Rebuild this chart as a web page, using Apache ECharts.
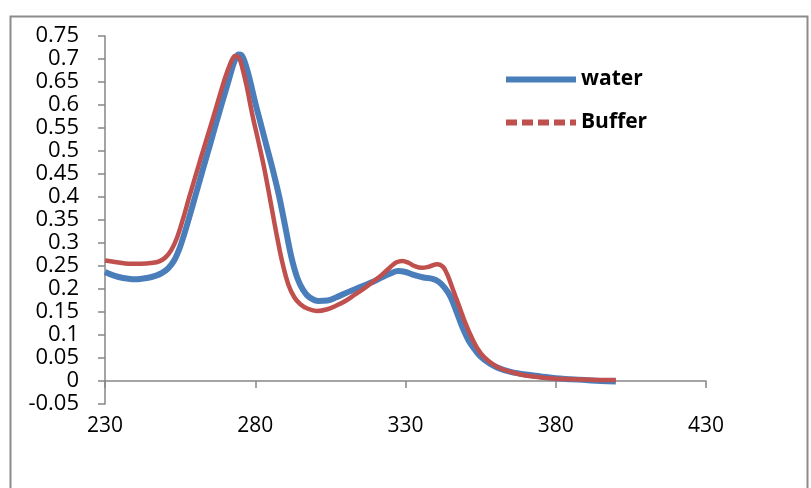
<!DOCTYPE html>
<html>
<head>
<meta charset="utf-8">
<script src="https://cdn.jsdelivr.net/npm/echarts@6/dist/echarts.min.js"></script>
<style>
  html, body { margin: 0; padding: 0; background: #ffffff; }
  #chart { width: 811px; height: 488px; }
</style>
</head>
<body>
<div id="chart"></div>
<script>
// Absorbance spectra (wavelength in nm)
const waterWl = [230, 233, 236, 240, 244, 247, 249, 251, 253, 255, 257, 259, 261, 263, 265, 267, 269, 271, 272.5, 273.5, 274.4, 275.3, 276.3, 278, 280, 282, 284, 286, 288, 290, 292, 294, 296, 298, 301, 304, 307, 310, 313, 316, 319, 322, 325, 327.5, 330, 333, 336, 339, 341, 343, 345, 347, 349, 351, 353, 355, 358, 361, 365, 370, 375, 380, 385, 390, 395, 400];
const waterAbs = [0.237, 0.229, 0.224, 0.221, 0.224, 0.229, 0.235, 0.245, 0.262, 0.292, 0.333, 0.378, 0.424, 0.47, 0.515, 0.561, 0.606, 0.65, 0.684, 0.701, 0.71, 0.709, 0.697, 0.66, 0.605, 0.555, 0.505, 0.455, 0.4, 0.335, 0.27, 0.224, 0.197, 0.182, 0.174, 0.175, 0.182, 0.191, 0.199, 0.207, 0.215, 0.225, 0.234, 0.239, 0.237, 0.23, 0.225, 0.222, 0.216, 0.203, 0.183, 0.15, 0.116, 0.088, 0.069, 0.053, 0.038, 0.028, 0.02, 0.014, 0.01, 0.006, 0.004, 0.002, 0.0, -0.001];

const bufferWl = [230, 234, 238, 242, 246, 248, 250, 252, 254, 256, 258, 260, 262, 264, 266, 268, 270, 271.7, 272.5, 273.3, 274.2, 275, 277, 279, 281, 283, 285, 287, 289, 291, 293, 295, 297.5, 300.5, 304, 307, 310, 313, 316, 319, 322, 325, 327, 329, 331, 333, 335.5, 338, 340.5, 342.5, 344, 346, 348, 350, 352, 354, 356, 359, 362, 366, 370, 375, 380, 385, 390, 395, 400];
const bufferAbs = [0.262, 0.258, 0.255, 0.255, 0.257, 0.26, 0.268, 0.284, 0.312, 0.353, 0.399, 0.443, 0.487, 0.53, 0.573, 0.617, 0.66, 0.69, 0.701, 0.707, 0.705, 0.697, 0.645, 0.58, 0.522, 0.462, 0.393, 0.322, 0.258, 0.21, 0.182, 0.167, 0.157, 0.152, 0.156, 0.164, 0.174, 0.187, 0.2, 0.215, 0.23, 0.248, 0.258, 0.261, 0.257, 0.25, 0.246, 0.249, 0.254, 0.248, 0.23, 0.195, 0.16, 0.125, 0.095, 0.07, 0.053, 0.037, 0.026, 0.018, 0.012, 0.008, 0.005, 0.004, 0.003, 0.002, 0.002];

const xTicks = [230, 280, 330, 380, 430];
const yMin = -0.05, yMax = 0.75, yStep = 0.05;

const pairs = (xs, ys) => xs.map((x, i) => [x, ys[i]]);

const FONT = 'Open Sans';
const AXIS_GREY = '#868686';
const BLUE = '#4a7ebb';
const RED = '#c0504d';

// Legend keys: a solid bar and a four-dash bar
const SOLID_KEY = 'path://M0,0h70v6h-70z';
const DASH_KEY = 'path://M0,0h11v6h-11z M16,0h11v6h-11z M32,0h11v6h-11z M48,0h11v6h-11z M64,0h6v6h-6z';

const chart = echarts.init(document.getElementById('chart'), null, { renderer: 'canvas' });

chart.setOption({
  backgroundColor: '#ffffff',
  animation: false,
  graphic: [{
    type: 'rect',
    left: 8, top: 14,
    shape: { width: 797, height: 520 },
    style: { fill: 'none', stroke: '#8c8c8c', lineWidth: 2 },
    silent: true, z: -10
  }],
  grid: { left: 105, top: 36, width: 601, height: 368, containLabel: false },
  legend: {
    orient: 'vertical',
    left: 501, top: 64,
    padding: 5,
    itemWidth: 70, itemHeight: 6, itemGap: 22,
    textStyle: { fontFamily: FONT, fontSize: 21, fontWeight: 'bold', color: '#000' },
    data: [
      { name: 'water', icon: SOLID_KEY, itemStyle: { color: BLUE } },
      { name: 'Buffer', icon: DASH_KEY, itemStyle: { color: RED } }
    ]
  },
  xAxis: [{
    type: 'value', min: 230, max: 430,
    axisLine: { onZero: true, lineStyle: { color: AXIS_GREY, width: 1.5 } },
    axisTick: { show: true, length: 7, customValues: xTicks, lineStyle: { color: AXIS_GREY, width: 1.5 } },
    axisLabel: { show: false },
    splitLine: { show: false }
  }, {
    type: 'value', min: 230, max: 430, position: 'bottom',
    axisLine: { show: false, onZero: false },
    axisTick: { show: false },
    axisLabel: {
      customValues: xTicks, margin: 12,
      fontFamily: FONT, fontSize: 21, color: '#000'
    },
    splitLine: { show: false }
  }],
  yAxis: {
    type: 'value', min: yMin, max: yMax, interval: yStep,
    axisLine: { show: true, onZero: false, lineStyle: { color: AXIS_GREY, width: 1.5 } },
    axisTick: { show: true, length: 7, lineStyle: { color: AXIS_GREY, width: 1.5 } },
    axisLabel: {
      margin: 26, fontFamily: FONT, fontSize: 22, color: '#000',
      formatter: v => String(+v.toFixed(2))
    },
    splitLine: { show: false }
  },
  series: [{
    name: 'water', type: 'line', xAxisIndex: 0,
    data: pairs(waterWl, waterAbs),
    symbol: 'none', smooth: 0.35,
    lineStyle: { color: BLUE, width: 6 },
    itemStyle: { color: BLUE },
    z: 2
  }, {
    name: 'Buffer', type: 'line', xAxisIndex: 0,
    data: pairs(bufferWl, bufferAbs),
    symbol: 'none', smooth: 0.35,
    lineStyle: { color: RED, width: 4.5 },
    itemStyle: { color: RED },
    z: 3
  }]
});
</script>
</body>
</html>
